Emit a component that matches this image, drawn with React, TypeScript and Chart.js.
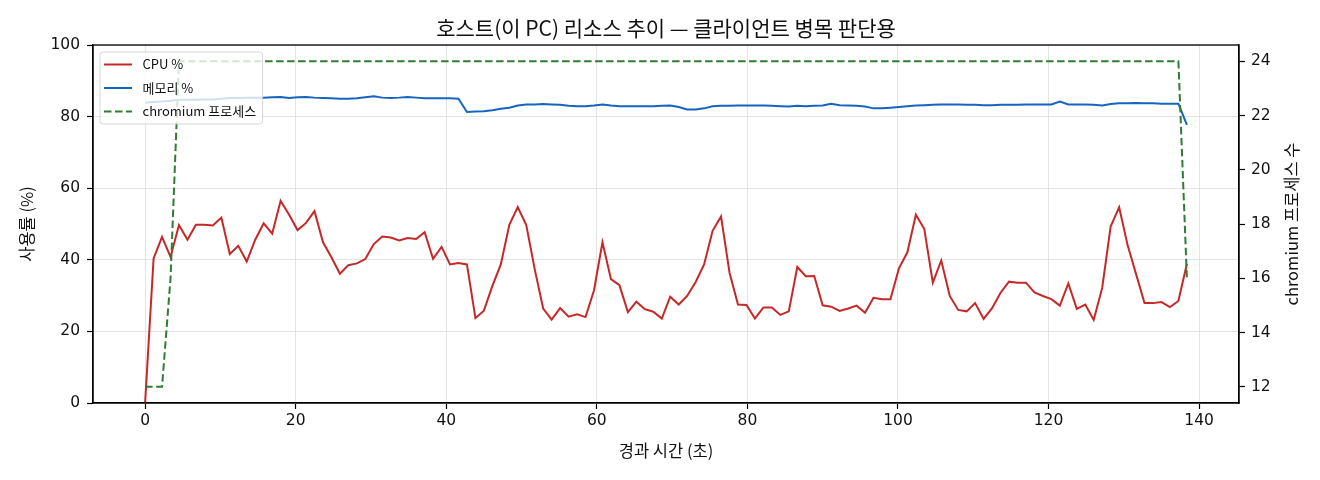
import React, { useEffect, useRef } from "react";
import { Chart, registerables } from "chart.js";

Chart.register(...registerables);

const TITLE = "호스트(이 PC) 리소스 추이 — 클라이언트 병목 판단용";
const X_LABEL = "경과 시간 (초)";
const Y_LABEL = "사용률 (%)";
const Y2_LABEL = "chromium 프로세스 수";
const CPU_LABEL = "CPU %";
const MEM_LABEL = "메모리 %";
const PROC_LABEL = "chromium 프로세스";

const TIMES = [
  0, 1.13, 2.25, 3.38, 4.5, 5.63, 6.75, 7.88, 9, 10.13,
  11.25, 12.38, 13.5, 14.63, 15.75, 16.88, 18, 19.13, 20.25, 21.38,
  22.5, 23.63, 24.75, 25.88, 27, 28.13, 29.25, 30.38, 31.5, 32.63,
  33.75, 34.88, 36, 37.13, 38.25, 39.38, 40.5, 41.63, 42.75, 43.88,
  45, 46.13, 47.25, 48.38, 49.5, 50.63, 51.75, 52.88, 54, 55.13,
  56.25, 57.38, 58.5, 59.63, 60.75, 61.88, 63, 64.13, 65.25, 66.38,
  67.5, 68.63, 69.75, 70.88, 72, 73.13, 74.25, 75.38, 76.5, 77.63,
  78.75, 79.88, 81, 82.13, 83.25, 84.38, 85.5, 86.63, 87.75, 88.88,
  90, 91.13, 92.25, 93.38, 94.5, 95.63, 96.75, 97.88, 99, 100.13,
  101.25, 102.38, 103.5, 104.63, 105.75, 106.88, 108, 109.13, 110.25, 111.38,
  112.5, 113.63, 114.75, 115.88, 117, 118.13, 119.25, 120.38, 121.5, 122.63,
  123.75, 124.88, 126, 127.13, 128.25, 129.38, 130.5, 131.63, 132.75, 133.88,
  135, 136.13, 137.25, 138.38,
];

const CPU = [
  0, 40.4, 46.4, 40.8, 49.7, 45.6, 49.8, 49.8, 49.6, 51.8,
  41.6, 43.9, 39.5, 45.6, 50.2, 47.3, 56.5, 52.6, 48.3, 50.3,
  53.6, 44.9, 40.7, 36.1, 38.5, 39.0, 40.2, 44.4, 46.5, 46.2,
  45.4, 46.1, 45.8, 47.7, 40.3, 43.6, 38.7, 39.1, 38.7, 23.7,
  25.8, 32.7, 38.7, 49.8, 54.7, 49.7, 37.4, 26.4, 23.3, 26.5,
  24.1, 24.8, 24.0, 31.5, 44.9, 34.6, 32.9, 25.4, 28.3, 26.2,
  25.5, 23.6, 29.7, 27.5, 29.9, 33.8, 38.7, 48.1, 52.1, 36.4,
  27.5, 27.4, 23.6, 26.7, 26.7, 24.6, 25.6, 38.0, 35.4, 35.5,
  27.3, 26.9, 25.7, 26.4, 27.2, 25.2, 29.4, 29.0, 29.0, 37.6,
  42.1, 52.6, 48.6, 33.6, 39.8, 29.9, 26.0, 25.6, 27.9, 23.5,
  26.5, 30.8, 33.9, 33.6, 33.6, 30.9, 29.9, 29.0, 27.2, 33.4,
  26.3, 27.5, 23.2, 32.2, 49.3, 54.7, 44.1, 36.0, 27.9, 27.9,
  28.2, 26.8, 28.5, 38.9,
];

const MEM = [
  83.9, 84.1, 84.2, 84.4, 84.7, 84.7, 84.7, 84.8, 84.8, 85.0,
  85.2, 85.2, 85.3, 85.3, 85.3, 85.4, 85.5, 85.2, 85.4, 85.5,
  85.3, 85.2, 85.1, 85.0, 85.0, 85.1, 85.4, 85.7, 85.3, 85.2,
  85.3, 85.5, 85.3, 85.1, 85.1, 85.1, 85.1, 85.0, 81.3, 81.4,
  81.5, 81.8, 82.2, 82.5, 83.1, 83.4, 83.4, 83.5, 83.4, 83.3,
  83.0, 82.9, 82.9, 83.1, 83.4, 83.1, 82.9, 82.9, 82.9, 82.9,
  82.9, 83.0, 83.1, 82.7, 82.0, 82.0, 82.3, 82.9, 83.0, 83.0,
  83.1, 83.1, 83.1, 83.1, 83.0, 82.9, 82.8, 83.0, 82.9, 83.0,
  83.1, 83.6, 83.2, 83.1, 83.0, 82.8, 82.3, 82.3, 82.5, 82.7,
  82.9, 83.1, 83.2, 83.3, 83.4, 83.4, 83.4, 83.3, 83.3, 83.2,
  83.2, 83.3, 83.3, 83.3, 83.4, 83.4, 83.4, 83.4, 84.2, 83.4,
  83.4, 83.4, 83.3, 83.1, 83.5, 83.7, 83.7, 83.8, 83.7, 83.7,
  83.6, 83.6, 83.6, 77.7,
];

const PROCS = [
  12, 12, 12, 16, 24, 24, 24, 24, 24, 24,
  24, 24, 24, 24, 24, 24, 24, 24, 24, 24,
  24, 24, 24, 24, 24, 24, 24, 24, 24, 24,
  24, 24, 24, 24, 24, 24, 24, 24, 24, 24,
  24, 24, 24, 24, 24, 24, 24, 24, 24, 24,
  24, 24, 24, 24, 24, 24, 24, 24, 24, 24,
  24, 24, 24, 24, 24, 24, 24, 24, 24, 24,
  24, 24, 24, 24, 24, 24, 24, 24, 24, 24,
  24, 24, 24, 24, 24, 24, 24, 24, 24, 24,
  24, 24, 24, 24, 24, 24, 24, 24, 24, 24,
  24, 24, 24, 24, 24, 24, 24, 24, 24, 24,
  24, 24, 24, 24, 24, 24, 24, 24, 24, 24,
  24, 24, 24, 16,
];

const X_TICKS = [0, 20, 40, 60, 80, 100, 120, 140];
const Y_TICKS = [0, 20, 40, 60, 80, 100];
const Y2_TICKS = [12, 14, 16, 18, 20, 22, 24];

const KR = "'Noto Sans CJK KR', 'Noto Sans', sans-serif";
const NUM = "'DejaVu Sans', 'Noto Sans', sans-serif";
const TXT = "#111";
const GRID = "#e4e4e4";

const W = 1320;
const H = 480;

const toPoints = (ys: number[]) => TIMES.map((t, i) => ({ x: t, y: ys[i] }));

const decorPlugin = {
  id: "decor",
  afterDatasetsDraw(chart: any) {
    const { ctx, chartArea } = chart;
    const { left, right, top, bottom } = chartArea;
    ctx.save();
    // frame (spines)
    ctx.strokeStyle = "#000";
    ctx.lineWidth = 1.3;
    ctx.strokeRect(left, top, right - left, bottom - top);

    // title centred over the plot area
    ctx.fillStyle = TXT;
    ctx.font = `21px ${KR}`;
    ctx.textAlign = "center";
    ctx.textBaseline = "middle";
    ctx.fillText(TITLE, (left + right) / 2, 28);

    // right axis title (reads bottom-to-top)
    ctx.font = `16.5px ${KR}`;
    ctx.translate(1292, (top + bottom) / 2);
    ctx.rotate(-Math.PI / 2);
    ctx.fillText(Y2_LABEL, 0, 0);
    ctx.restore();

    // legend
    const entries = [1, 2, 0].map((i) => chart.data.datasets[i]);
    const bx = left + 7;
    const by = top + 7;
    ctx.save();
    ctx.font = `13px ${KR}`;
    let maxW = 0;
    entries.forEach((d: any) => {
      maxW = Math.max(maxW, ctx.measureText(d.label).width);
    });
    const bw = 42.5 + maxW + 6.5;
    const bh = 72;
    ctx.beginPath();
    (ctx as any).roundRect(bx, by, bw, bh, 3);
    ctx.fillStyle = "rgba(255,255,255,0.8)";
    ctx.fill();
    ctx.strokeStyle = "rgba(204,204,204,0.8)";
    ctx.lineWidth = 1;
    ctx.stroke();
    entries.forEach((d: any, k: number) => {
      const cy = by + 12.5 + k * 23.5;
      ctx.beginPath();
      ctx.strokeStyle = d.borderColor;
      ctx.lineWidth = d.borderWidth;
      ctx.setLineDash(d.borderDash || []);
      ctx.moveTo(bx + 4, cy);
      ctx.lineTo(bx + 32, cy);
      ctx.stroke();
      ctx.setLineDash([]);
      ctx.fillStyle = TXT;
      ctx.textAlign = "left";
      ctx.textBaseline = "middle";
      ctx.fillText(d.label, bx + 42.5, cy);
    });
    ctx.restore();
  },
};

export default function App() {
  const ref = useRef<HTMLCanvasElement | null>(null);

  useEffect(() => {
    const canvas = ref.current;
    if (!canvas) return;
    const last = TIMES[TIMES.length - 1];
    const pMin = Math.min(...PROCS);
    const pMax = Math.max(...PROCS);
    const pPad = (pMax - pMin) * 0.05;

    const tickFont = { family: NUM, size: 15.5 };
    const lw = 2;
    const chart = new Chart(canvas, {
      type: "line",
      data: {
        datasets: [
          {
            label: PROC_LABEL,
            data: toPoints(PROCS),
            yAxisID: "y2",
            borderColor: "#2e7d32",
            borderDash: [7.5, 3.5],
            borderWidth: lw,
            pointRadius: 0,
            tension: 0,
            fill: false,
            order: 0,
          },
          {
            label: CPU_LABEL,
            data: toPoints(CPU),
            yAxisID: "y",
            borderColor: "#c62828",
            borderWidth: lw,
            pointRadius: 0,
            tension: 0,
            fill: false,
            order: 2,
          },
          {
            label: MEM_LABEL,
            data: toPoints(MEM),
            yAxisID: "y",
            borderColor: "#1565c0",
            borderWidth: lw,
            pointRadius: 0,
            tension: 0,
            fill: false,
            order: 1,
          },
        ],
      },
      options: {
        animation: false,
        responsive: false,
        maintainAspectRatio: false,
        layout: { padding: { top: 45, left: 0, right: 0, bottom: 0 } },
        plugins: {
          legend: { display: false },
          tooltip: { enabled: false },
          title: { display: false },
        },
        scales: {
          x: {
            type: "linear",
            min: -0.05 * last,
            max: 1.05 * last,
            afterBuildTicks: (s: any) => {
              s.ticks = X_TICKS.map((v) => ({ value: v }));
            },
            afterFit: (s: any) => {
              s.height = H - 403;
            },
            grid: {
              color: GRID,
              lineWidth: 1,
              drawTicks: true,
              tickLength: 6,
              tickColor: "#000",
              tickWidth: 1.2,
            },
            border: { color: "#000", width: 1.3 },
            ticks: {
              font: tickFont,
              color: TXT,
              padding: 3,
              maxRotation: 0,
              autoSkip: false,
            },
            title: {
              display: true,
              text: X_LABEL,
              color: TXT,
              font: { family: KR, size: 16.5 },
              padding: { top: 0, bottom: 19 },
            },
          },
          y: {
            type: "linear",
            position: "left",
            min: 0,
            max: 100,
            afterBuildTicks: (s: any) => {
              s.ticks = Y_TICKS.map((v) => ({ value: v }));
            },
            afterFit: (s: any) => {
              s.width = 93;
            },
            grid: {
              color: GRID,
              lineWidth: 1,
              drawTicks: true,
              tickLength: 6,
              tickColor: "#000",
              tickWidth: 1.2,
            },
            border: { color: "#000", width: 1.3 },
            ticks: { font: tickFont, color: TXT, padding: 7 },
            title: {
              display: true,
              text: Y_LABEL,
              color: TXT,
              font: { family: KR, size: 16.5 },
              padding: { top: 17, bottom: 0 },
            },
          },
          y2: {
            type: "linear",
            position: "right",
            min: pMin - pPad,
            max: pMax + pPad,
            afterBuildTicks: (s: any) => {
              s.ticks = Y2_TICKS.map((v) => ({ value: v }));
            },
            afterFit: (s: any) => {
              s.width = W - 1239;
            },
            grid: {
              drawOnChartArea: false,
              drawTicks: true,
              tickLength: 6,
              tickColor: "#000",
              tickWidth: 1.2,
            },
            border: { color: "#000", width: 1.3 },
            ticks: { font: tickFont, color: TXT, padding: 6 },
            title: { display: false },
          },
        },
      },
      plugins: [decorPlugin],
    } as any);

    return () => chart.destroy();
  }, []);

  return (
    <div
      style={{
        position: "fixed",
        left: 0,
        top: 0,
        width: W,
        height: H,
        background: "#fff",
      }}
    >
      <canvas ref={ref} width={W} height={H} style={{ width: W, height: H }} />
    </div>
  );
}
